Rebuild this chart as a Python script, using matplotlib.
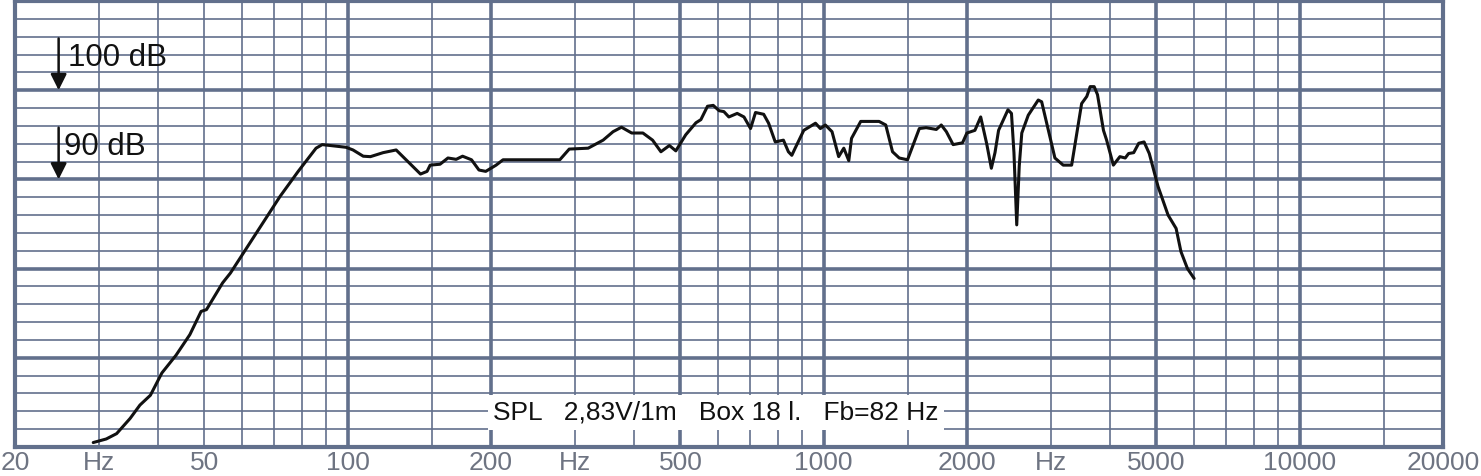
import numpy as np
import matplotlib
matplotlib.use('Agg')
from matplotlib import pyplot as plt

# frequency response (Hz, dB SPL)
freq = [29.2, 31.1, 32.7, 34.9, 36.6, 38.5, 40.7, 43.6, 46.6, 49.2, 50.5, 54.6, 56.7,
        63.6, 72.1, 78.7, 85.8, 88.4, 99.2, 102.6, 107.8, 111.6, 118.7, 126.4, 132.6,
        142.2, 146.8, 149, 156.3, 162.4, 169, 174.3, 182, 188.7, 195, 205, 212, 279,
        292, 320, 344, 361, 376, 395, 417, 437, 455, 474, 489, 513, 539, 552, 570, 586,
        603, 617, 632, 658, 680, 702, 719, 748, 766, 791, 823, 843, 857, 871, 908, 961,
        984, 1008, 1041, 1075, 1102, 1129, 1144, 1196, 1307, 1350, 1395, 1441, 1500,
        1588, 1641, 1724, 1766, 1810, 1870, 1957, 1999, 2078, 2137, 2200, 2250, 2290,
        2330, 2438, 2480, 2510, 2544, 2575, 2607, 2690, 2823, 2870, 3060, 3185, 3318,
        3482, 3570, 3629, 3700, 3760, 3870, 3930, 4060, 4190, 4300, 4370, 4480, 4590,
        4710, 4830, 5040, 5290, 5500, 5630, 5810, 6000]
spl = [60.5, 60.9, 61.5, 63.2, 64.7, 65.8, 68.3, 70.3, 72.6, 75.2, 75.4, 78.4, 79.5,
       83.6, 88.1, 90.9, 93.5, 93.9, 93.6, 93.3, 92.6, 92.55, 93.0, 93.3, 92.2,
       90.6, 90.9, 91.6, 91.7, 92.4, 92.25, 92.6, 92.2, 91.05, 90.9, 91.6, 92.2, 92.2,
       93.4, 93.5, 94.4, 95.35, 95.85, 95.2, 95.2, 94.4, 93.1, 93.8, 93.2, 95.0, 96.35,
       96.7, 98.2, 98.3, 97.7, 97.6, 97.0, 97.4, 97.0, 95.7, 97.5, 97.3, 96.3, 94.2,
       94.4, 93.1, 92.7, 93.5, 95.5, 96.3, 95.7, 96.1, 95.35, 92.55, 93.5, 92.1, 94.6,
       96.5, 96.5, 96.1, 93.1, 92.4, 92.2, 95.7, 95.8, 95.6, 96.1, 95.35, 93.9, 94.1,
       95.2, 95.5, 97.0, 94.0, 91.25, 93.0, 95.5, 97.8, 97.4, 93.0, 84.9, 91.5, 95.2,
       97.2, 98.9, 98.7, 92.4, 91.6, 91.6, 98.5, 99.3, 100.4, 100.4, 99.5, 95.5, 94.4,
       91.6, 92.55, 92.4, 92.9, 93.0, 94.05, 94.2, 92.9, 89.2, 86.0, 84.5, 81.9, 80.0,
       78.9]

tick_freqs = [20, 30, 50, 100, 200, 300, 500, 1000, 2000, 3000, 5000, 10000, 20000]
tick_labels = ['20', 'Hz', '50', '100', '200', 'Hz', '500', '1000', '2000', 'Hz',
               '5000', '10000', '20000']

plt.rcParams['font.family'] = ['Liberation Sans', 'DejaVu Sans']

grid_col = '#62708c'
fig = plt.figure(figsize=(14.81, 4.76), dpi=100)
ax = fig.add_axes([15 / 1481, 29 / 476, 1428 / 1481, 446 / 476])
ax.set_xscale('log')
ax.set_xlim(20, 20000)
ax.set_ylim(60, 110)

# paper grid: 1, 1.5, 2..9 per decade, thick at 1, 2, 5 (except 50)
for dec in [10, 100, 1000, 10000]:
    for m in [1, 1.5, 2, 3, 4, 5, 6, 7, 8, 9]:
        f = dec * m
        if f <= 20 or f >= 20000:
            continue
        thick = m in (1, 2, 5) and f != 50
        ax.axvline(f, color=grid_col, lw=2.6 if thick else 1.2, zorder=1)
for db in range(62, 110, 2):
    ax.axhline(db, color=grid_col, lw=2.6 if db % 10 == 0 else 1.2, zorder=1)

for s in ax.spines.values():
    s.set_color(grid_col)
    s.set_linewidth(3)

ax.plot(freq, spl, color='#111111', lw=2.2, solid_joinstyle='round',
        solid_capstyle='round', zorder=3)

ax.set_xticks(tick_freqs)
ax.set_xticklabels(tick_labels)
ax.xaxis.set_minor_locator(matplotlib.ticker.NullLocator())
ax.set_yticks([])
ax.tick_params(axis='x', length=0, pad=3, labelsize=19, labelcolor='#6e7482')

# level markers
for lvl, label, tx in [(100, '100 dB', 25.9), (90, '90 dB', 25.4)]:
    ax.annotate('', xy=(24.7, lvl), xytext=(24.7, lvl + 5.8),
                arrowprops=dict(arrowstyle='-|>', color='#111111', lw=1.8,
                                mutation_scale=24, shrinkA=0, shrinkB=0), zorder=4)
    ax.text(tx, lvl + 3.6, label, fontsize=22.5, color='#111111', va='center',
            ha='left', zorder=4)

ax.text(594, 63.9, 'SPL   2,83V/1m   Box 18 l.   Fb=82 Hz', fontsize=19,
        color='#111111', ha='center', va='center', zorder=4,
        bbox=dict(facecolor='white', edgecolor='none', pad=4))

fig.savefig('out.png', dpi=100)
